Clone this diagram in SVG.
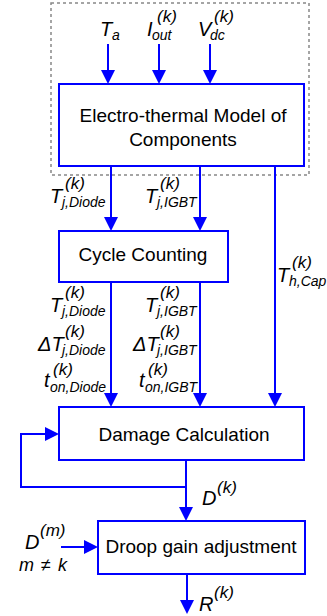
<svg xmlns="http://www.w3.org/2000/svg" width="327" height="616" viewBox="0 0 327 616">
<style>
.box{fill:#fff;stroke:#0000ff;stroke-width:2}
.ln{fill:none;stroke:#0000ff;stroke-width:2}
.t{font-family:"Liberation Sans",Arial,sans-serif;font-size:19px;fill:#000;text-anchor:middle}
.m{font-family:"Liberation Sans",Arial,sans-serif;font-style:italic;font-size:20px;fill:#000}
.sb{font-family:"Liberation Sans",Arial,sans-serif;font-style:italic;font-size:14px;fill:#000}
.sp{font-family:"Liberation Sans",Arial,sans-serif;font-style:italic;font-size:17px;fill:#000}
</style>
<defs>
<marker id="ah" markerUnits="userSpaceOnUse" markerWidth="14" markerHeight="14" refX="12" refY="7" orient="auto" viewBox="0 0 14 14">
<path d="M0,0 L14,7 L0,14 z" fill="#0000ff"/>
</marker>
</defs>
<rect width="327" height="616" fill="#fff"/>
<g id="boundary">
<rect x="51" y="3" width="258" height="172" fill="none" stroke="#888" stroke-width="1.5" stroke-dasharray="3,3"/>
</g>
<g id="connectors">
<line class="ln" x1="108" y1="44" x2="108" y2="82" marker-end="url(#ah)"/>
<line class="ln" x1="159" y1="44" x2="159" y2="82" marker-end="url(#ah)"/>
<line class="ln" x1="210" y1="44" x2="210" y2="82" marker-end="url(#ah)"/>
<line class="ln" x1="111" y1="166" x2="111" y2="229" marker-end="url(#ah)"/>
<line class="ln" x1="200" y1="166" x2="200" y2="229" marker-end="url(#ah)"/>
<line class="ln" x1="111" y1="282" x2="111" y2="405" marker-end="url(#ah)"/>
<line class="ln" x1="200" y1="282" x2="200" y2="405" marker-end="url(#ah)"/>
<line class="ln" x1="275" y1="166" x2="275" y2="405" marker-end="url(#ah)"/>
<line class="ln" x1="186" y1="460" x2="186" y2="519" marker-end="url(#ah)"/>
<polyline class="ln" points="186,487 21,487 21,434 57,434" marker-end="url(#ah)"/>
<line class="ln" x1="61" y1="547" x2="96" y2="547" marker-end="url(#ah)"/>
<line class="ln" x1="187" y1="574" x2="187" y2="612" marker-end="url(#ah)"/>
</g>
<g id="electro">
<rect class="box" x="59" y="84" width="245" height="82"/>
<text class="t" x="183" y="122">Electro-thermal Model of</text>
<text class="t" x="183" y="146">Components</text>
</g>
<g id="cycle">
<rect class="box" x="59" y="231" width="169" height="51"/>
<text class="t" x="143" y="261">Cycle Counting</text>
</g>
<g id="damage">
<rect class="box" x="59" y="407" width="245" height="53"/>
<text class="t" x="184" y="441">Damage Calculation</text>
</g>
<g id="droop">
<rect class="box" x="98" y="521" width="207" height="53"/>
<text class="t" x="201" y="553">Droop gain adjustment</text>
</g>
<g id="labels">
<text class="m" x="100" y="36">T</text><text class="sb" x="112" y="40">a</text>
<text class="m" x="147" y="36">I</text><text class="sb" x="152" y="40">out</text><text class="sp" x="157" y="22">(k)</text>
<text class="m" x="198" y="36">V</text><text class="sb" x="210" y="40">dc</text><text class="sp" x="214" y="22">(k)</text>

<text class="m" x="50" y="203">T</text><text class="sb" x="62" y="207">j,Diode</text><text class="sp" x="65" y="189">(k)</text>
<text class="m" x="145" y="203">T</text><text class="sb" x="157" y="207">j,IGBT</text><text class="sp" x="160" y="189">(k)</text>
<text class="m" x="277" y="282">T</text><text class="sb" x="289" y="286">h,Cap</text><text class="sp" x="292" y="268">(k)</text>

<text class="m" x="50" y="312">T</text><text class="sb" x="62" y="316">j,Diode</text><text class="sp" x="65" y="298">(k)</text>
<text class="m" x="145" y="312">T</text><text class="sb" x="157" y="316">j,IGBT</text><text class="sp" x="160" y="298">(k)</text>

<text class="m" x="38" y="351">ΔT</text><text class="sb" x="62" y="355">j,Diode</text><text class="sp" x="65" y="337">(k)</text>
<text class="m" x="133" y="351">ΔT</text><text class="sb" x="157" y="355">j,IGBT</text><text class="sp" x="160" y="337">(k)</text>

<text class="m" x="44" y="387">t</text><text class="sb" x="50" y="392">on,Diode</text><text class="sp" x="53" y="375">(k)</text>
<text class="m" x="139" y="387">t</text><text class="sb" x="145" y="392">on,IGBT</text><text class="sp" x="148" y="375">(k)</text>

<text class="m" x="202" y="505">D</text><text class="sp" x="217" y="493">(k)</text>
<text class="m" x="25" y="549">D</text><text class="sp" x="40" y="536">(m)</text>
<text class="sp" x="19" y="571" style="font-size:18px;word-spacing:2px">m ≠ k</text>
<text class="m" x="199" y="611">R</text><text class="sp" x="214" y="598">(k)</text>
</g>
</svg>
